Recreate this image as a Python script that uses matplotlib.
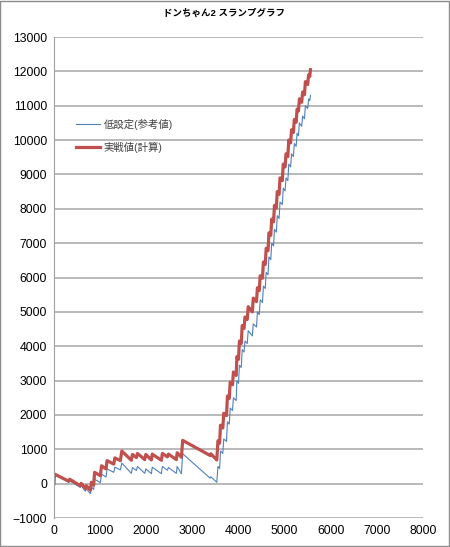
import matplotlib
matplotlib.use("Agg")
import matplotlib.pyplot as plt
from matplotlib.patches import Rectangle

plt.rcParams['font.family'] = ['Liberation Sans', 'Noto Sans CJK JP']

# slump data (games, balls) - vertices
games = [0, 10, 320, 340, 570, 590, 680, 700, 790, 810, 860, 880,
         1005, 1030, 1128, 1150, 1295, 1320, 1439, 1470, 1677, 1700,
         1786, 1810, 1967, 1990, 2111, 2130, 2328, 2350, 2458, 2480,
         2653, 2670, 2762, 2790, 3384, 3400, 3529,
         3555, 3590, 3610, 3660, 3680, 3740, 3760, 3800, 3820, 3870,
         3890, 3950, 3965, 4000, 4020, 4060, 4080, 4120, 4140, 4190,
         4210, 4300, 4320, 4390, 4410, 4450, 4470, 4520, 4540, 4580,
         4600, 4640, 4660, 4700, 4720, 4760, 4780, 4820, 4840, 4880,
         4900, 4950, 4970, 5010, 5030, 5070, 5090, 5130, 5150, 5190,
         5210, 5250, 5270, 5300, 5320, 5370, 5390, 5430, 5450, 5500,
         5520, 5545, 5560]

jissen = [0, 280, 70, 130, -60, 10, -150, -60, -190, 40, -40, 330,
          230, 520, 430, 670, 570, 750, 670, 950, 680, 850,
          760, 880, 700, 850, 690, 860, 680, 880, 780, 860,
          700, 900, 770, 1260, 820, 870, 690,
          1250, 1180, 1700, 1620, 2050, 1980, 2550, 2480, 2950, 2880,
          3250, 3150, 3700, 3620, 4150, 4080, 4600, 4520, 4850, 4780,
          5150, 5000, 5400, 5300, 5700, 5620, 6050, 5980, 6450, 6380,
          6850, 6780, 7300, 7230, 7700, 7620, 8100, 8020, 8500, 8420,
          8900, 8820, 9300, 9220, 9600, 9520, 10000, 9920, 10300, 10220,
          10600, 10520, 10900, 10850, 11200, 11100, 11400, 11320, 11700, 11620,
          11900, 11850, 12050]

tei = [0, 270, 40, 80, -110, -60, -220, -150, -290, -100, -170, 130,
       30, 280, 190, 430, 330, 480, 400, 600, 300, 470,
       380, 500, 300, 430, 290, 480, 290, 500, 390, 470,
       300, 500, 290, 870, 160, 200, 40,
       500, 440, 950, 880, 1300, 1230, 1800, 1730, 2200, 2130,
       2500, 2420, 3000, 2920, 3450, 3380, 3900, 3830, 4150, 4080,
       4450, 4300, 4650, 4560, 5000, 4920, 5350, 5270, 5750, 5680,
       6150, 6080, 6600, 6520, 7000, 6920, 7400, 7320, 7800, 7720,
       8200, 8120, 8600, 8520, 8900, 8820, 9300, 9220, 9600, 9520,
       9900, 9820, 10200, 10130, 10500, 10400, 10700, 10620, 11000, 10920,
       11200, 11150, 11300]

x_ticks = list(range(0, 8001, 1000))
y_ticks = list(range(-1000, 13001, 1000))

fig = plt.figure(figsize=(4.5, 5.47), dpi=100)
ax = fig.add_axes([0.12, 0.053, 0.82, 0.8793])

ax.plot(games, tei, color='#4f81bd', lw=0.8, label='低設定(参考値)')
ax.plot(games, jissen, color='#c0504d', lw=2.3, label='実戦値(計算)')

ax.set_xlim(0, 8000)
ax.set_ylim(-1000, 13000)
ax.set_xticks(x_ticks)
ax.set_yticks(y_ticks)
ax.tick_params(length=0, labelsize=8.8, pad=5)
ax.yaxis.grid(True, color='#a6a6a6', lw=1.1)
ax.set_axisbelow(True)
for s in ['top', 'right', 'bottom']:
    ax.spines[s].set_visible(False)
ax.spines['left'].set_color('#a0a0a0')

fig.text(0.497, 0.976, 'ドンちゃん2 スランプグラフ', ha='center', va='center',
         fontsize=6.8, fontweight='bold')

ax.legend(loc='upper left', bbox_to_anchor=(0.168, 1 - 119 / 547),
          bbox_transform=fig.transFigure, frameon=False, fontsize=7.5,
          handlelength=2.3, handletextpad=0.4, labelspacing=1.1,
          borderpad=0, borderaxespad=0, labelcolor='#404040')

fig.patches.append(Rectangle((0.001, 0.001), 0.997, 0.997, transform=fig.transFigure,
                             fill=False, edgecolor='#8c8c8c', lw=1))

fig.savefig('out.png', dpi=100)
